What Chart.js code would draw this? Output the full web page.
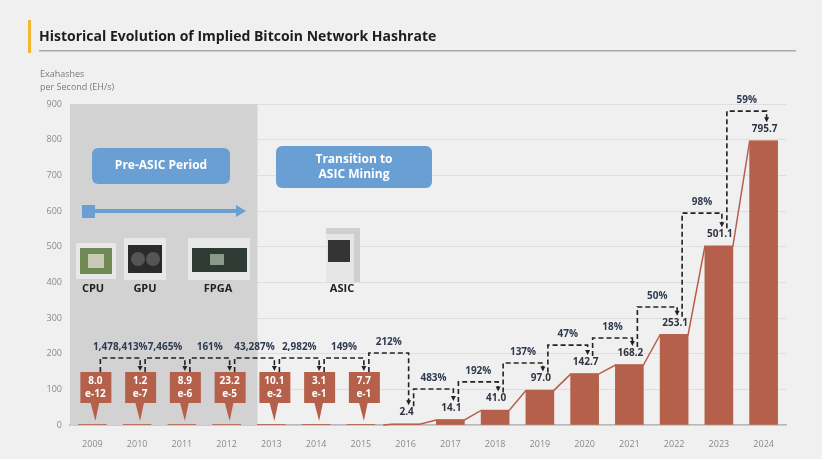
<!DOCTYPE html>
<html>
<head>
<meta charset="utf-8">
<script src="https://cdn.jsdelivr.net/npm/chart.js@4"></script>
<style>
  html, body { margin: 0; padding: 0; background: #f0f0f0; }
  #wrap { position: relative; width: 822px; height: 459px; }
  canvas { position: absolute; left: 0; top: 0; }
</style>
</head>
<body>
<div id="wrap"><canvas id="chart" width="822" height="459"></canvas></div>
<script>
const years = ["2009", "2010", "2011", "2012", "2013", "2014", "2015", "2016", "2017", "2018", "2019", "2020", "2021", "2022", "2023", "2024"];
const hashrate = [8.0e-12, 1.2e-7, 8.9e-6, 23.2e-5, 10.1e-2, 3.1e-1, 7.7e-1, 2.4, 14.1, 41.0, 97.0, 142.7, 168.2, 253.1, 501.1, 795.7];
const valueLabels = ["8.0|e-12", "1.2|e-7", "8.9|e-6", "23.2|e-5", "10.1|e-2", "3.1|e-1", "7.7|e-1", "2.4", "14.1", "41.0", "97.0", "142.7", "168.2", "253.1", "501.1", "795.7"];
const growthLabels = ["1,478,413%", "7,465%", "161%", "43,287%", "2,982%", "149%", "212%", "483%", "192%", "137%", "47%", "18%", "50%", "98%", "59%"];
const yTicks = [0, 100, 200, 300, 400, 500, 600, 700, 800, 900];

// height (EH/s) of each dashed growth bracket, for layout only
const bracketLevels = [188, 188, 188, 188, 188, 188, 202, 101, 121, 174, 224, 244, 331, 594, 880];
const boxedCount = 7;
const BAR = "#b5604a";

const annotations = {
  id: "annotations",
  beforeDatasetsDraw(chart) {
    const { ctx, scales: { x, y } } = chart;
    ctx.save();
    ctx.fillStyle = "#d2d2d2";
    const x0 = chart.chartArea.left, x1 = x.getPixelForValue(3.69);
    ctx.fillRect(x0, y.getPixelForValue(900), x1 - x0, y.getPixelForValue(0) - y.getPixelForValue(900));
    ctx.restore();
  },
  afterDatasetsDraw(chart) {
    const { ctx, scales: { x, y } } = chart;
    const meta = chart.getDatasetMeta(0);
    const base = y.getPixelForValue(0);
    ctx.save();

    // connecting line between bar tops
    ctx.strokeStyle = BAR;
    ctx.lineWidth = 1.5;
    ctx.beginPath();
    ctx.moveTo(x.getPixelForValue(6.5), base);
    for (let i = 7; i < meta.data.length; i++) {
      const b = meta.data[i];
      ctx.lineTo(b.x - b.width / 2, b.y);
      ctx.lineTo(b.x + b.width / 2, b.y);
    }
    ctx.stroke();

    // label tops
    const tops = [];
    ctx.textAlign = "center";
    ctx.textBaseline = "middle";
    for (let i = 0; i < years.length; i++) {
      const cx = x.getPixelForValue(i);
      if (i < boxedCount) {
        const bx = cx + 3, top = base - 53;
        ctx.fillStyle = BAR;
        ctx.fillRect(bx - 15, top, 31, 31);
        ctx.beginPath();
        ctx.moveTo(bx - 5, top + 30);
        ctx.lineTo(bx + 4, top + 30);
        ctx.lineTo(bx, base - 4);
        ctx.closePath();
        ctx.fill();
        const [a, b] = valueLabels[i].split("|");
        ctx.fillStyle = "#fff";
        ctx.font = "bold 10px 'Open Sans'";
        ctx.fillText(a, bx, top + 9);
        ctx.fillText(b, bx, top + 22);
        tops.push(top);
      } else {
        const by = meta.data[i].y;
        ctx.fillStyle = "#2f3440";
        ctx.font = "bold 10px 'Open Sans'";
        ctx.fillText(valueLabels[i], cx + 1, by - 12);
        tops.push(by - 18);
      }
    }

    // growth brackets
    ctx.strokeStyle = "#222";
    ctx.lineWidth = 1.6;
    for (let i = 0; i < growthLabels.length; i++) {
      const sx = x.getPixelForValue(i) + 8;
      const ex = x.getPixelForValue(i + 1) + 3;
      const ly = y.getPixelForValue(bracketLevels[i]);
      const endY = tops[i + 1] - 1;
      ctx.setLineDash([5, 3]);
      ctx.beginPath();
      ctx.moveTo(sx, tops[i]);
      ctx.lineTo(sx, ly);
      ctx.lineTo(ex, ly);
      ctx.lineTo(ex, endY - 4);
      ctx.stroke();
      ctx.setLineDash([]);
      ctx.fillStyle = "#222";
      ctx.beginPath();
      ctx.moveTo(ex - 2.5, endY - 5);
      ctx.lineTo(ex + 2.5, endY - 5);
      ctx.lineTo(ex, endY);
      ctx.closePath();
      ctx.fill();
      ctx.fillStyle = "#2f3a4f";
      ctx.font = "bold 10px 'Open Sans'";
      ctx.fillText(growthLabels[i], (sx + ex) / 2, ly - 11);
    }

    // period boxes
    function box(x0, y0, w, h, lines) {
      ctx.fillStyle = "#6a9fd4";
      ctx.beginPath();
      ctx.roundRect(x0, y0, w, h, 6);
      ctx.fill();
      ctx.fillStyle = "#fff";
      ctx.font = "bold 12px 'Open Sans'";
      lines.forEach((t, k) => ctx.fillText(t, x0 + w / 2, y0 + h / 2 + (k - (lines.length - 1) / 2) * 15));
    }
    box(92, 148, 138, 36, ["Pre-ASIC Period"]);
    box(276, 146, 156, 42, ["Transition to", "ASIC Mining"]);

    // arrow
    ctx.fillStyle = "#6a9fd4";
    ctx.fillRect(82, 205, 13, 13);
    ctx.fillRect(95, 209, 142, 4);
    ctx.beginPath();
    ctx.moveTo(236, 205);
    ctx.lineTo(246, 211);
    ctx.lineTo(236, 217);
    ctx.closePath();
    ctx.fill();

    // hardware icons
    ctx.fillStyle = "#e8e8e8";
    ctx.fillRect(76, 243, 40, 36);
    ctx.fillStyle = "#6f8a55";
    ctx.fillRect(80, 248, 32, 26);
    ctx.fillStyle = "#c9c9b5";
    ctx.fillRect(88, 254, 16, 14);
    ctx.fillStyle = "#e8e8e8";
    ctx.fillRect(124, 238, 42, 42);
    ctx.fillStyle = "#2b2b2b";
    ctx.fillRect(128, 245, 34, 28);
    ctx.fillStyle = "#555";
    ctx.beginPath(); ctx.arc(138, 259, 7, 0, Math.PI * 2); ctx.fill();
    ctx.beginPath(); ctx.arc(153, 259, 7, 0, Math.PI * 2); ctx.fill();
    ctx.fillStyle = "#e8e8e8";
    ctx.fillRect(188, 238, 62, 42);
    ctx.fillStyle = "#2e3a33";
    ctx.fillRect(192, 248, 55, 24);
    ctx.fillStyle = "#8a9a8a";
    ctx.fillRect(210, 254, 14, 11);
    ctx.fillStyle = "#cfcfcf";
    ctx.fillRect(326, 228, 34, 54);
    ctx.fillStyle = "#e6e6e6";
    ctx.fillRect(326, 234, 28, 48);
    ctx.fillStyle = "#333";
    ctx.fillRect(328, 240, 22, 22);

    ctx.fillStyle = "#222";
    ctx.font = "bold 11px 'Open Sans'";
    ctx.fillText("CPU", 93, 289);
    ctx.fillText("GPU", 145, 289);
    ctx.fillText("FPGA", 218, 289);
    ctx.fillText("ASIC", 342, 289);

    // header
    ctx.textAlign = "left";
    ctx.fillStyle = "#f2b632";
    ctx.fillRect(28, 20, 3, 33);
    ctx.fillStyle = "#1d1d1d";
    ctx.font = "bold 14px 'Open Sans'";
    ctx.fillText("Historical Evolution of Implied Bitcoin Network Hashrate", 39, 37);
    ctx.fillStyle = "#a8a8a8";
    ctx.fillRect(39, 50, 757, 1.5);
    ctx.fillStyle = "#7a7a7a";
    ctx.font = "9px 'Open Sans'";
    ctx.fillText("Exahashes", 40, 74);
    ctx.fillText("per Second (EH/s)", 40, 87);
    ctx.restore();
  }
};

new Chart(document.getElementById("chart"), {
  type: "bar",
  data: {
    labels: years,
    datasets: [{ data: hashrate, backgroundColor: BAR, barThickness: 28 }]
  },
  options: {
    responsive: false,
    animation: false,
    layout: { padding: { top: 104, right: 36, left: 0, bottom: 0 } },
    plugins: { legend: { display: false }, tooltip: { enabled: false } },
    scales: {
      x: {
        afterFit: s => { s.height = 34; },
        grid: { display: false },
        border: { color: "#b8b8b8", width: 1.5 },
        ticks: { color: "#8a8a8a", font: { size: 9, family: "Open Sans" }, padding: 6 }
      },
      y: {
        min: 0, max: 900,
        afterFit: s => { s.width = 70; },
        afterBuildTicks: s => { s.ticks = yTicks.map(v => ({ value: v })); },
        grid: { color: "#dedede", drawTicks: false },
        border: { display: false },
        ticks: { color: "#8a8a8a", font: { size: 9, family: "Open Sans" }, padding: 8 }
      }
    }
  },
  plugins: [annotations]
});
</script>
</body>
</html>
